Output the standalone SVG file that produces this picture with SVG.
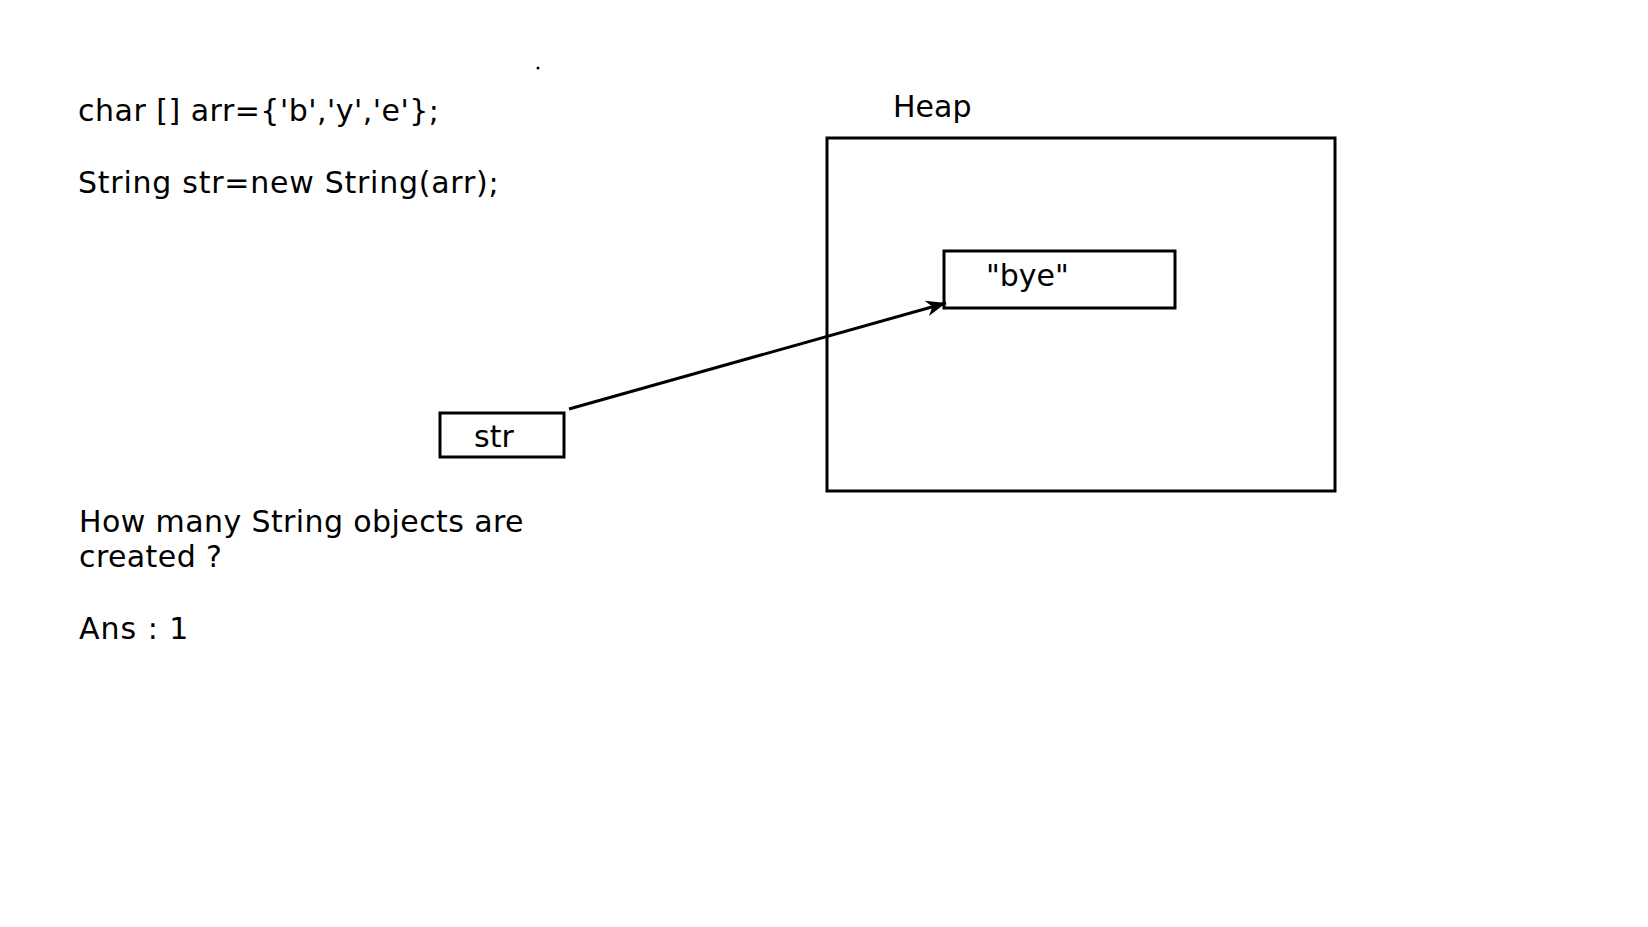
<svg xmlns="http://www.w3.org/2000/svg" width="1648" height="927" viewBox="0 0 1648 927">
<style>
  .t { font-family: "DejaVu Sans", Verdana, sans-serif; font-size: 30px; fill: #000; }
  .box { fill: none; stroke: #000; stroke-width: 3; }
  .edge { fill: none; stroke: #000; stroke-width: 3; }
</style>
<defs>
  <marker id="arrow" markerUnits="userSpaceOnUse" markerWidth="22" markerHeight="18" viewBox="0 0 22 18" refX="20" refY="9" orient="auto">
    <path d="M0,1 L20,9 L0,17 L6,9 Z" fill="#000"/>
  </marker>
</defs>
<rect width="1648" height="927" fill="#fff"/>
<circle cx="538" cy="68" r="1.5" fill="#000"/>
<g id="code">
  <text class="t" x="78" y="121" letter-spacing="0.5">char [] arr={'b','y','e'};</text>
  <text class="t" x="78" y="193" letter-spacing="0.75">String str=new String(arr);</text>
</g>
<g id="question">
  <text class="t" x="79" y="532" letter-spacing="0.4">How many String objects are</text>
  <text class="t" x="79" y="567" letter-spacing="0.4">created ?</text>
  <text class="t" x="79" y="639" letter-spacing="1">Ans : 1</text>
</g>
<g id="heap">
  <text class="t" x="893" y="117">Heap</text>
  <rect class="box" x="827" y="138" width="508" height="353"/>
</g>
<g id="bye">
  <rect class="box" x="944" y="251" width="231" height="57"/>
  <text class="t" x="986" y="286">"bye"</text>
</g>
<g id="str">
  <rect class="box" x="440" y="413" width="124" height="44"/>
  <text class="t" x="474" y="447">str</text>
</g>
<g id="connectors">
  <line class="edge" x1="569" y1="409" x2="946" y2="303" marker-end="url(#arrow)"/>
</g>
</svg>
